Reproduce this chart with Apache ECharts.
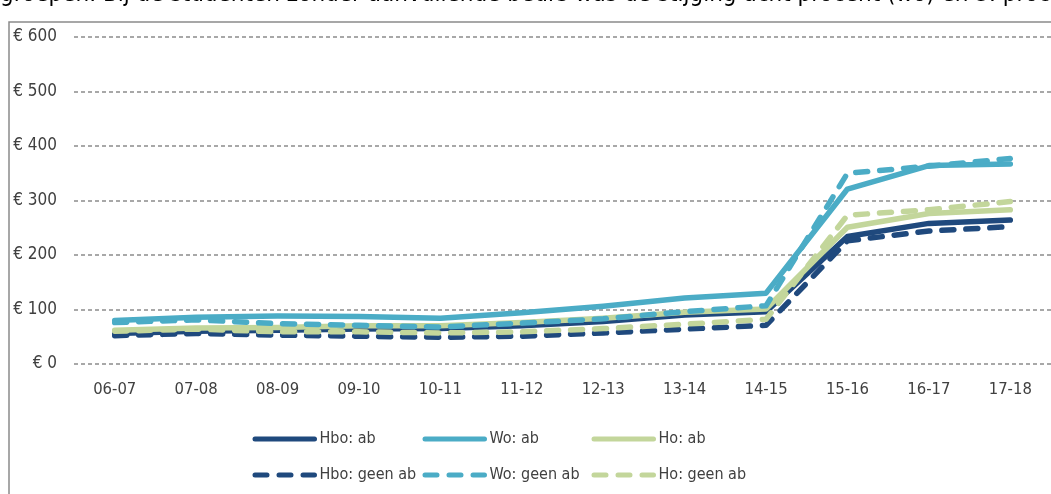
<!DOCTYPE html>
<html>
<head>
<meta charset="utf-8">
<script src="https://cdn.jsdelivr.net/npm/echarts@6/dist/echarts.min.js"></script>
<style>
html,body{margin:0;padding:0;background:#fff;overflow:hidden;}
#c{width:1051px;height:494px;}
</style>
</head>
<body>
<div id="c"></div>
<script>
// ---- data ----
const categories = ['06-07','07-08','08-09','09-10','10-11','11-12','12-13','13-14','14-15','15-16','16-17','17-18'];
const hboAb     = [56, 60, 62, 64, 65, 70, 78, 90, 96, 234, 258, 264];
const woAb      = [80, 86, 88, 87, 84, 94, 106, 121, 130, 321, 364, 367];
const hoAb      = [62, 66, 67, 70, 70, 76, 84, 95, 101, 251, 276, 283];
const hboGeenAb = [52, 56, 53, 51, 49, 51, 57, 64, 71, 226, 244, 252];
const woGeenAb  = [76, 81, 74, 71, 68, 75, 83, 96, 107, 350, 363, 377];
const hoGeenAb  = [60, 64, 59, 59, 57, 59, 65, 73, 82, 273, 283, 298];
const seriesNames = ['Hbo: ab','Wo: ab','Ho: ab','Hbo: geen ab','Wo: geen ab','Ho: geen ab'];
const yTicks = [0, 100, 200, 300, 400, 500, 600];
const topText = 'groepen. Bij de studenten zonder aanvullende beurs was de stijging acht procent (wo) en 3. procent (hbo).';

const colHbo = '#1F497D', colWo = '#4BACC6', colHo = '#C3D69B';
const FONT = '"DejaVu Sans Condensed", "DejaVu Sans", sans-serif';
const dash = [12, 12];
const LW = 5.5;

function mk(name, data, color, dashed) {
  return {
    name: name, type: 'line', data: data, symbol: 'none', smooth: false,
    lineStyle: { color: color, width: LW, type: dashed ? dash : 'solid', cap: 'round', join: 'round' },
    itemStyle: { color: color },
    emphasis: { disabled: true }, animation: false
  };
}
const allData = [hboAb, woAb, hoAb, hboGeenAb, woGeenAb, hoGeenAb];
const cols = [colHbo, colWo, colHo, colHbo, colWo, colHo];
const series = seriesNames.map((n, i) => mk(n, allData[i], cols[i], i >= 3));

const legendX = [252.5, 422.5, 591.5];
const legendY = [431, 467];
const legends = seriesNames.map((n, i) => ({
  data: [n], left: legendX[i % 3], top: legendY[Math.floor(i / 3)],
  padding: 0, itemWidth: 59.5, itemHeight: 14, itemGap: 0, selectedMode: false,
  itemStyle: { opacity: 0 },
  lineStyle: { width: 5, cap: 'round' },
  textStyle: { color: '#404040', fontFamily: FONT, fontSize: 16 }
}));

const chart = echarts.init(document.getElementById('c'), null, { renderer: 'canvas' });
chart.setOption({
  animation: false,
  backgroundColor: '#fff',
  graphic: [
    { type: 'text', left: 0, top: -17, silent: true,
      style: { text: topText, fill: '#000', font: '24px "DejaVu Sans Condensed", "DejaVu Sans"' } },
    { type: 'rect', shape: { x: 9, y: 22, width: 1100, height: 520 }, silent: true, z: -1,
      style: { fill: null, stroke: '#8a8a8a', lineWidth: 1.5 } }
  ],
  legend: legends,
  grid: { left: 74, top: 37, width: 982, height: 327, containLabel: false },
  xAxis: {
    type: 'category', data: categories, boundaryGap: true,
    axisLine: { show: false }, axisTick: { show: false },
    axisLabel: { color: '#404040', fontFamily: FONT, fontSize: 16.5, margin: 17 }
  },
  yAxis: {
    type: 'value', min: yTicks[0], max: yTicks[yTicks.length - 1], interval: 100,
    axisLine: { show: false }, axisTick: { show: false },
    axisLabel: { color: '#404040', fontFamily: FONT, fontSize: 17, margin: 17,
      formatter: v => '€ ' + v },
    splitLine: { lineStyle: { color: '#8c8c8c', width: 1.5, type: [4, 3] } }
  },
  series: series
});
</script>
</body>
</html>
